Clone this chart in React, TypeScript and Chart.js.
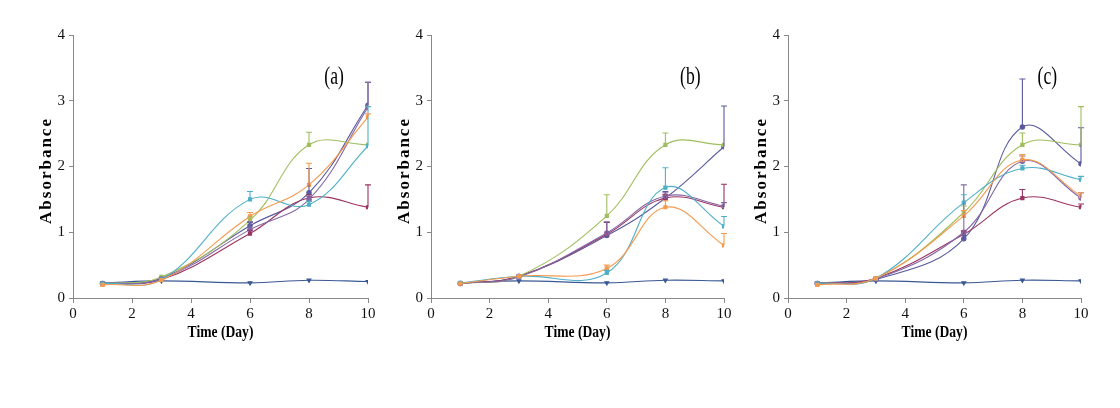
import React, { useEffect, useRef } from "react";
import { Chart, registerables } from "chart.js";
Chart.register(...registerables);

// ---------- data ----------
const days = [1, 3, 6, 8, 10];
const yTickValues = [0, 1, 2, 3, 4];
const xTickValues = [0, 2, 4, 6, 8, 10];
const panelLabels = ["(a)", "(b)", "(c)"];
const xTitle = "Time (Day)";
const yTitle = "Absorbance";
const seriesNames = ["Control", "S1", "S2", "S3", "S4", "S5", "S6"];
const seriesColors = ["#3A5894", "#5A5A9E", "#9A3462", "#9FBE5E", "#8468A6", "#4FAFC8", "#F69A4E"];

// panel (a)
const aControl = [0.23, 0.26, 0.23, 0.27, 0.25];
const aS1 = [0.22, 0.30, 1.10, 1.60, 2.93];
const aS2 = [0.22, 0.28, 0.98, 1.52, 1.38];
const aS3 = [0.22, 0.32, 1.18, 2.33, 2.33];
const aS4 = [0.22, 0.29, 1.04, 1.50, 2.90];
const aS5 = [0.22, 0.28, 1.50, 1.42, 2.31];
const aS6 = [0.20, 0.27, 1.24, 1.72, 2.75];
const aErrControl = [0, 0, 0, 0, 0];
const aErrS1 = [0, 0, 0.05, 0.37, 0.35];
const aErrS2 = [0, 0, 0.05, 0.05, 0.34];
const aErrS3 = [0, 0, 0.05, 0.19, 0];
const aErrS4 = [0, 0, 0.12, 0.05, 0.38];
const aErrS5 = [0, 0, 0.12, 0.05, 0.6];
const aErrS6 = [0, 0, 0.06, 0.33, 0.05];

// panel (b)
const bControl = [0.23, 0.26, 0.23, 0.27, 0.26];
const bS1 = [0.22, 0.33, 0.95, 1.52, 2.30];
const bS2 = [0.22, 0.33, 0.97, 1.52, 1.38];
const bS3 = [0.22, 0.33, 1.25, 2.33, 2.33];
const bS4 = [0.22, 0.32, 0.99, 1.55, 1.40];
const bS5 = [0.23, 0.33, 0.38, 1.68, 1.09];
const bS6 = [0.22, 0.33, 0.45, 1.38, 0.80];
const bErrControl = [0, 0, 0, 0, 0];
const bErrS1 = [0, 0, 0, 0.1, 0.62];
const bErrS2 = [0, 0, 0.18, 0.05, 0.35];
const bErrS3 = [0, 0, 0.32, 0.18, 0];
const bErrS4 = [0, 0, 0.17, 0.05, 0.05];
const bErrS5 = [0, 0, 0.04, 0.3, 0.15];
const bErrS6 = [0, 0, 0.05, 0.1, 0.18];

// panel (c)
const cControl = [0.23, 0.26, 0.23, 0.27, 0.26];
const cS1 = [0.22, 0.28, 0.90, 2.60, 2.04];
const cS2 = [0.22, 0.30, 0.97, 1.52, 1.38];
const cS3 = [0.22, 0.30, 1.30, 2.33, 2.33];
const cS4 = [0.22, 0.29, 1.00, 2.08, 1.52];
const cS5 = [0.22, 0.30, 1.45, 1.97, 1.80];
const cS6 = [0.20, 0.30, 1.25, 2.10, 1.55];
const cErrControl = [0, 0, 0, 0, 0];
const cErrS1 = [0, 0, 0.05, 0.73, 0.55];
const cErrS2 = [0, 0, 0.05, 0.13, 0.05];
const cErrS3 = [0, 0, 0.1, 0.18, 0.58];
const cErrS4 = [0, 0, 0.72, 0.08, 0.08];
const cErrS5 = [0, 0, 0.12, 0.05, 0.05];
const cErrS6 = [0, 0, 0.08, 0.08, 0.05];

const panels = [
  { values: [aControl, aS1, aS2, aS3, aS4, aS5, aS6], errs: [aErrControl, aErrS1, aErrS2, aErrS3, aErrS4, aErrS5, aErrS6] },
  { values: [bControl, bS1, bS2, bS3, bS4, bS5, bS6], errs: [bErrControl, bErrS1, bErrS2, bErrS3, bErrS4, bErrS5, bErrS6] },
  { values: [cControl, cS1, cS2, cS3, cS4, cS5, cS6], errs: [cErrControl, cErrS1, cErrS2, cErrS3, cErrS4, cErrS5, cErrS6] },
];

const pointStyles = ["triangle", "circle", "rect", "rect", "circle", "rect", "rect"];
const SERIF = '"Liberation Serif", "Times New Roman", serif';

const errorBarPlugin = {
  id: "errorBars",
  afterDatasetsDraw(chart: any) {
    const ctx = chart.ctx;
    const ys = chart.scales.y;
    chart.data.datasets.forEach((ds: any, i: number) => {
      const meta = chart.getDatasetMeta(i);
      (ds.err || []).forEach((e: number, j: number) => {
        if (!e) return;
        const pt = meta.data[j];
        if (!pt) return;
        const yTop = ys.getPixelForValue(ds.data[j].y + e);
        ctx.save();
        ctx.strokeStyle = ds.borderColor;
        ctx.lineWidth = 1.1;
        ctx.beginPath();
        ctx.moveTo(pt.x, pt.y);
        ctx.lineTo(pt.x, yTop);
        ctx.moveTo(pt.x - 3, yTop);
        ctx.lineTo(pt.x + 3, yTop);
        ctx.stroke();
        ctx.restore();
      });
    });
  },
};

const textPlugin = {
  id: "texts",
  afterDraw(chart: any) {
    const ctx = chart.ctx;
    const ca = chart.chartArea;
    const label = chart.options.plugins.texts.label;
    ctx.save();
    ctx.fillStyle = "#000";
    // x title
    ctx.font = `bold 16px ${SERIF}`;
    ctx.textAlign = "center";
    ctx.textBaseline = "middle";
    ctx.save();
    ctx.translate((ca.left + ca.right) / 2, 333);
    ctx.scale(0.85, 1.05);
    ctx.fillText(xTitle, 0, 0);
    ctx.restore();
    // y title
    ctx.save();
    ctx.translate(ca.left - 26, (ca.top + ca.bottom) / 2 + 4);
    ctx.rotate(-Math.PI / 2);
    ctx.font = `bold 17px ${SERIF}`;
    (ctx as any).letterSpacing = "2px";
    ctx.fillText(yTitle, 0, 0);
    ctx.restore();
    // panel label
    const xs = chart.scales.x;
    const ys = chart.scales.y;
    ctx.save();
    ctx.translate(xs.getPixelForValue(8.85), ys.getPixelForValue(3.35));
    ctx.scale(0.8, 1.15);
    ctx.font = `22px ${SERIF}`;
    ctx.fillText(label, 0, 0);
    ctx.restore();
    ctx.restore();
  },
};

function Panel({ idx, left, width }: { idx: number; left: number; width: number }) {
  const ref = useRef<HTMLCanvasElement>(null);
  useEffect(() => {
    const p = panels[idx];
    const datasets = p.values.map((vals, k) => ({
      label: seriesNames[k],
      data: days.map((d, j) => ({ x: d, y: vals[j] })),
      err: p.errs[k],
      borderColor: seriesColors[k],
      backgroundColor: seriesColors[k],
      borderWidth: 1.1,
      pointRadius: 2.2,
      pointStyle: pointStyles[k],
      rotation: k === 0 ? 180 : 0,
      tension: 0.4,
      fill: false,
      order: 7 - k,
    }));
    const chart = new Chart(ref.current as HTMLCanvasElement, {
      type: "line",
      data: { datasets } as any,
      plugins: [errorBarPlugin, textPlugin],
      options: {
        animation: false,
        responsive: false,
        layout: { padding: { left: 0, right: 12, top: 35, bottom: 80 } },
        plugins: {
          legend: { display: false },
          tooltip: { enabled: false },
          texts: { label: panelLabels[idx] },
        } as any,
        scales: {
          x: {
            type: "linear",
            min: 0,
            max: 10,
            afterBuildTicks: (s: any) => { s.ticks = xTickValues.map((v) => ({ value: v })); },
            afterFit: (s: any) => { s.height = 30; },
            ticks: { color: "#111", font: { family: SERIF, size: 15 }, padding: 2, maxRotation: 0 },
            grid: { drawOnChartArea: false, color: "#888", tickLength: 5 },
            border: { color: "#888", width: 1 },
          },
          y: {
            min: 0,
            max: 4,
            afterBuildTicks: (s: any) => { s.ticks = yTickValues.map((v) => ({ value: v })); },
            afterFit: (s: any) => { s.width = 73; },
            ticks: { color: "#111", font: { family: SERIF, size: 15 }, padding: 4 },
            grid: { drawOnChartArea: false, color: "#888", tickLength: 4 },
            border: { color: "#888", width: 1 },
          },
        },
      } as any,
    });
    return () => chart.destroy();
  }, [idx]);
  return (
    <canvas
      ref={ref}
      width={width}
      height={408}
      style={{ position: "absolute", left, top: 0, width, height: 408 }}
    />
  );
}

export default function App() {
  return (
    <div style={{ position: "absolute", left: 0, top: 0, width: 1120, height: 408, background: "#fff" }}>
      <Panel idx={0} left={0} width={380} />
      <Panel idx={1} left={358} width={378} />
      <Panel idx={2} left={715} width={378} />
    </div>
  );
}
